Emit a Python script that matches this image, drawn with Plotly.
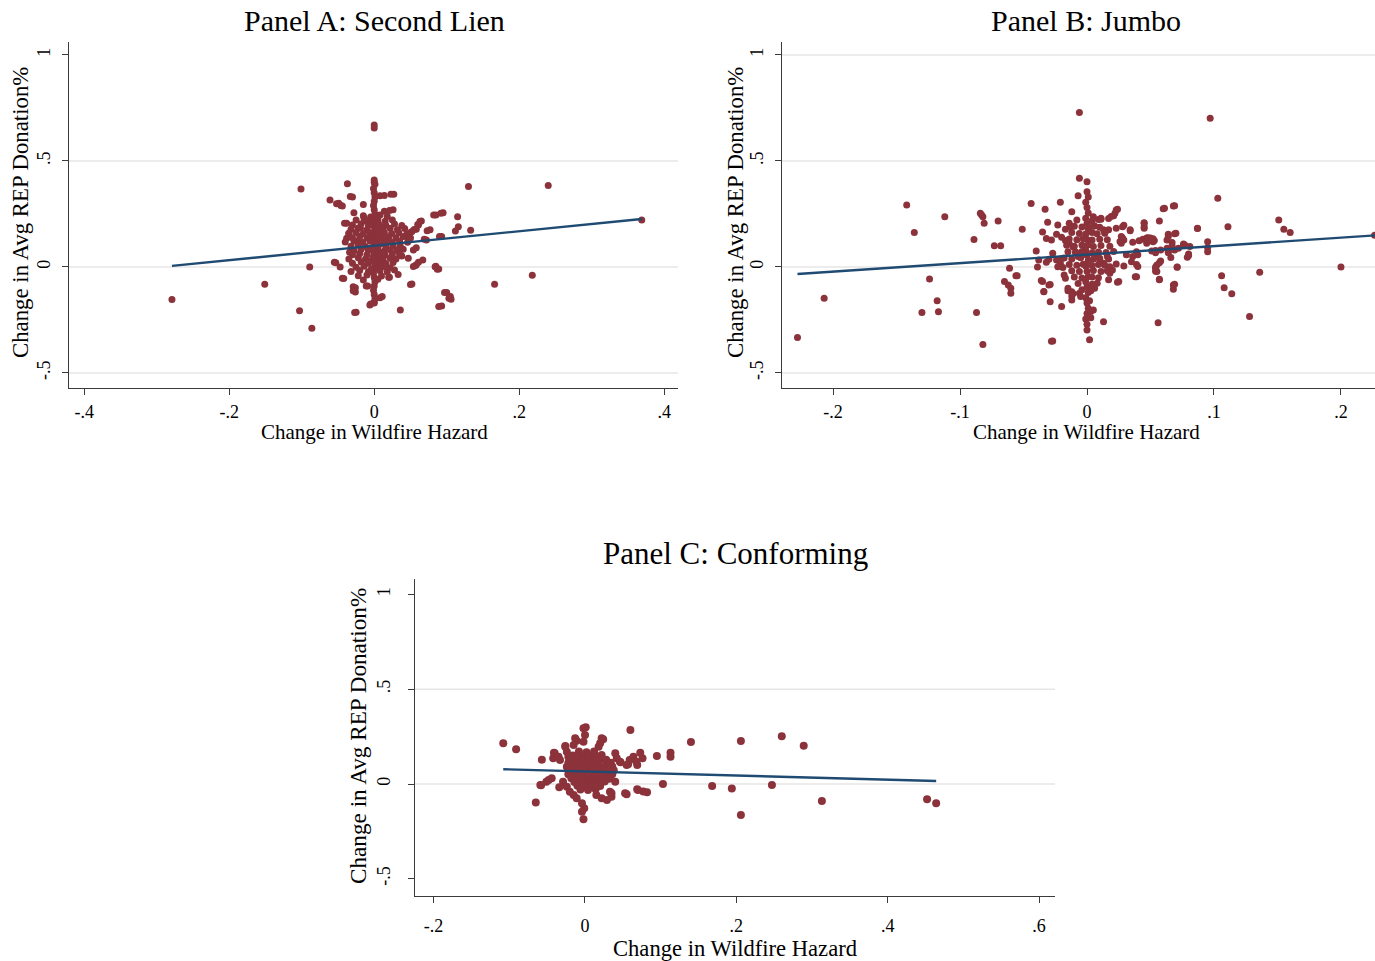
import plotly.graph_objects as go

W, H = 1375, 961
SERIF = "Liberation Serif"
DOT = "#8C323B"
FIT = "#1F4A72"
AXIS = "#3a3a3a"
GRID = "#E6E6E6"

# ---------------- data ----------------
panel_titles = ["Panel A: Second Lien", "Panel B: Jumbo", "Panel C: Conforming"]
x_title = "Change in Wildfire Hazard"
y_title = "Change in Avg REP Donation%"

a_xticks = [-0.4, -0.2, 0, 0.2, 0.4]
a_xlabels = ["-.4", "-.2", "0", ".2", ".4"]
b_xticks = [-0.2, -0.1, 0, 0.1, 0.2]
b_xlabels = ["-.2", "-.1", "0", ".1", ".2"]
c_xticks = [-0.2, 0, 0.2, 0.4, 0.6]
c_xlabels = ["-.2", "0", ".2", ".4", ".6"]
yticks = [-0.5, 0, 0.5, 1]
ylabels = ["-.5", "0", ".5", "1"]

# Panel A: Second Lien (x = change in hazard, y = change in REP donation %)
a_points = [
    (0.0, 0.670), (0.0, 0.655), (-0.279, -0.153), (-0.151, -0.082), (-0.101, 0.368),
    (-0.037, 0.392), (-0.061, 0.316), (-0.049, 0.300), (-0.046, 0.290), (-0.030, 0.330),
    (-0.028, 0.256), (-0.038, 0.206), (-0.089, 0.0), (-0.053, 0.020), (-0.103, -0.207),
    (-0.086, -0.289), (-0.025, -0.214), (0.036, -0.203), (0.093, -0.184), (0.100, -0.121),
    (0.105, -0.140), (0.106, -0.152), (0.166, -0.082), (0.218, -0.039), (0.369, 0.222),
    (0.240, 0.384), (0.130, 0.379), (0.115, 0.237), (0.116, 0.190), (0.112, 0.170),
    (0.133, 0.173), (0.095, 0.256), (0.085, 0.245), (0.077, 0.175), (0.093, 0.143),
    (0.065, 0.217), (0.060, 0.200), (0.055, 0.177), (0.072, 0.127), (0.058, 0.090),
    (0.067, 0.033), (0.058, 0.010), (0.085, 0.003), (0.089, -0.010), (0.052, -0.080),
    (0.021, -0.049), (0.011, -0.140), (0.0, -0.165), (-0.005, -0.175), (-0.009, -0.090),
    (-0.026, -0.098), (-0.026, -0.118), (-0.042, -0.055), (0.026, 0.270), (0.027, 0.343),
    (0.014, 0.337), (0.0, 0.400), (-0.052, 0.298), (-0.044, 0.287), (-0.033, 0.332),
    (-0.041, 0.206), (0.023, 0.343), (0.008, 0.336), (-0.015, 0.294), (0.014, 0.263),
    (0.021, 0.266), (-0.055, 0.022), (-0.044, -0.053), (-0.029, -0.093), (-0.029, -0.112),
    (-0.011, -0.090), (0.008, -0.145), (-0.006, -0.179), (-0.027, -0.215), (0.050, -0.083),
    (0.020, -0.049), (0.033, -0.036), (0.028, -0.014), (0.047, 0.041), (0.054, 0.002),
    (0.061, 0.022), (0.057, 0.007), (0.054, 0.080), (0.073, 0.171), (0.063, 0.214),
    (0.061, 0.198), (0.058, 0.178), (0.052, 0.167), (0.082, 0.245), (0.092, 0.253),
    (0.090, 0.143), (0.069, 0.131), (0.084, 0.001), (0.087, -0.011), (0.097, -0.121),
    (0.103, -0.148), (0.089, -0.187), (0.044, 0.143), (0.050, 0.162), (0.038, 0.052),
    (0.031, 0.080), (-0.047, 0.0), (-0.034, 0.069), (-0.038, 0.135), (-0.035, 0.159),
    (-0.024, 0.120), (-0.019, 0.183), (-0.014, 0.230),
    # vertical column at zero change
    (0.0, 0.410), (0.001, 0.390), (-0.001, 0.370), (0.0, 0.350), (0.001, 0.330),
    (0.0, 0.310), (-0.001, 0.290), (0.0, 0.270), (0.001, 0.250), (0.0, 0.230),
    (-0.001, 0.210), (0.0, 0.190), (0.001, 0.170), (0.0, 0.150), (-0.001, 0.130),
    (0.0, 0.110), (0.001, 0.090), (0.0, 0.070), (-0.001, 0.050), (0.0, 0.030),
    (0.001, 0.010), (0.0, -0.010), (-0.001, -0.030), (0.0, -0.050), (0.001, -0.070),
    (0.0, -0.090), (-0.001, -0.110), (0.0, -0.130), (0.001, -0.150), (0.0, -0.170),
    # dense core
    (-0.015, 0.242), (-0.005, 0.236), (0.008, 0.245), (0.018, 0.238),
    (-0.025, 0.221), (-0.012, 0.218), (0.005, 0.224), (0.015, 0.216), (0.025, 0.222),
    (-0.030, 0.198), (-0.018, 0.204), (-0.008, 0.196), (0.006, 0.202), (0.016, 0.197),
    (0.028, 0.203), (0.038, 0.195),
    (-0.032, 0.178), (-0.022, 0.184), (-0.010, 0.176), (0.004, 0.182), (0.012, 0.177),
    (0.022, 0.183), (0.032, 0.176), (0.042, 0.181),
    (-0.035, 0.158), (-0.025, 0.163), (-0.015, 0.156), (-0.006, 0.162), (0.006, 0.157),
    (0.014, 0.163), (0.024, 0.158), (0.034, 0.161), (0.045, 0.155),
    (-0.030, 0.138), (-0.020, 0.143), (-0.010, 0.137), (0.005, 0.142), (0.012, 0.136),
    (0.020, 0.141), (0.030, 0.138), (0.040, 0.144), (0.050, 0.137),
    (-0.040, 0.118), (-0.028, 0.123), (-0.016, 0.117), (-0.006, 0.122), (0.004, 0.118),
    (0.015, 0.124), (0.025, 0.117), (0.035, 0.121), (0.046, 0.116),
    (-0.032, 0.098), (-0.022, 0.103), (-0.012, 0.097), (0.006, 0.102), (0.016, 0.096),
    (0.026, 0.101), (0.036, 0.098),
    (-0.028, 0.078), (-0.018, 0.083), (-0.008, 0.077), (0.005, 0.082), (0.014, 0.076),
    (0.022, 0.081), (0.032, 0.078), (0.040, 0.083),
    (-0.030, 0.058), (-0.020, 0.063), (-0.010, 0.057), (0.006, 0.062), (0.015, 0.056),
    (0.025, 0.061), (0.035, 0.058),
    (-0.035, 0.038), (-0.022, 0.043), (-0.012, 0.037), (0.005, 0.042), (0.012, 0.036),
    (0.022, 0.041), (0.030, 0.038),
    (-0.030, 0.018), (-0.018, 0.023), (-0.008, 0.017), (0.008, 0.022), (0.016, 0.016),
    (0.026, 0.021),
    (-0.025, -0.002), (-0.014, 0.003), (0.006, -0.003), (0.014, 0.002), (0.022, -0.004),
    (-0.032, -0.022), (-0.020, -0.017), (-0.008, -0.023), (0.008, -0.018), (0.018, -0.024),
    (-0.022, -0.042), (-0.010, -0.038), (0.010, -0.043),
    (-0.015, -0.062), (0.005, -0.058),
    (-0.005, 0.210), (0.010, 0.190), (-0.004, 0.150), (0.010, 0.110), (-0.004, 0.090),
    (0.010, 0.060), (-0.004, 0.030), (0.008, 0.000), (-0.004, -0.010), (0.020, 0.120),
]
a_fit_x = [-0.279, 0.369]
a_fit_y = [0.005, 0.226]

# Panel B: Jumbo
b_points = [
    (-0.006, 0.728), (0.097, 0.701), (-0.228, -0.333), (-0.207, -0.148), (-0.142, 0.292),
    (-0.136, 0.162), (-0.112, 0.237), (-0.124, -0.057), (-0.118, -0.160), (-0.117, -0.211),
    (-0.130, -0.215), (-0.089, 0.129), (-0.087, -0.215), (-0.082, -0.366), (-0.084, 0.253),
    (-0.082, 0.237), (-0.081, 0.206), (-0.083, 0.245), (-0.070, 0.217), (-0.073, 0.100),
    (-0.068, 0.100), (-0.061, -0.006), (-0.065, -0.069), (-0.062, -0.085), (-0.060, -0.100),
    (-0.060, -0.124), (-0.056, -0.041), (-0.051, 0.178), (-0.044, 0.299), (-0.040, 0.075),
    (-0.039, 0.0), (-0.033, 0.272), (-0.035, -0.069), (-0.034, -0.117), (-0.030, -0.085),
    (-0.029, -0.164), (-0.028, -0.351), (-0.021, 0.305), (-0.020, -0.187), (-0.015, -0.112),
    (-0.011, -0.125), (-0.007, 0.336), (-0.006, 0.418), (0.0, 0.402), (0.002, -0.344),
    (0.013, -0.258), (0.056, -0.263), (0.038, -0.046), (0.057, -0.061), (0.068, -0.085),
    (0.068, -0.105), (0.071, 0.0), (0.060, 0.274), (0.068, 0.288), (0.057, 0.217),
    (0.045, 0.206), (0.045, 0.183), (0.069, 0.156), (0.087, 0.183), (0.103, 0.324),
    (0.111, 0.189), (0.095, 0.119), (0.095, 0.072), (0.106, -0.041), (0.108, -0.098),
    (0.114, -0.127), (0.128, -0.234), (0.136, -0.025), (0.151, 0.222), (0.155, 0.178),
    (0.160, 0.162), (0.200, 0.0), (0.2265, 0.150), (0.080, 0.061), (0.079, 0.046),
    (0.076, 0.104), (0.064, 0.143), (0.063, 0.127), (0.054, 0.067), (0.054, 0.0),
    (0.054, -0.020), (0.057, 0.020), (0.066, 0.045), (0.064, 0.067), (0.050, 0.136),
    (0.053, 0.125), (0.047, 0.136), (0.039, 0.012), (0.028, 0.190), (0.023, 0.269),
    (0.019, 0.238), (0.017, 0.228), (0.034, 0.175), (0.028, 0.136), (0.026, 0.120),
    (0.017, 0.175), (0.011, 0.230),
    (-0.012, 0.260), (-0.031, 0.211), (-0.023, 0.198), (-0.014, 0.206), (-0.013, 0.190),
    (-0.017, 0.178), (-0.035, 0.165), (-0.032, 0.134), (-0.028, 0.127), (-0.024, 0.154),
    (-0.020, 0.140), (-0.017, 0.125), (-0.014, 0.110), (-0.011, 0.095), (-0.009, 0.070),
    (-0.007, 0.049), (-0.038, 0.033), (-0.030, 0.036), (-0.027, 0.064), (-0.024, 0.033),
    (-0.021, 0.017), (-0.023, 0.001), (-0.019, -0.003), (-0.055, -0.042), (-0.036, -0.064),
    (-0.029, -0.083), (-0.034, -0.116), (-0.017, -0.053), (-0.018, -0.038), (-0.015, -0.100),
    (-0.012, -0.117), (-0.012, -0.137), (-0.012, -0.156), (-0.006, -0.124), (-0.005, -0.140),
    (-0.027, -0.349), (0.0, -0.297), (-0.032, 0.022), (-0.020, 0.040),
    (0.061, 0.277), (0.069, 0.289), (0.022, 0.253), (0.024, 0.272), (0.021, 0.242),
    (0.005, 0.237), (0.011, 0.225), (0.045, 0.209), (0.045, 0.190), (0.087, 0.181),
    (0.029, 0.197), (0.023, 0.183), (0.034, 0.171), (0.070, 0.159), (0.064, 0.154),
    (0.013, 0.175), (0.014, 0.159), (0.027, 0.143), (0.029, 0.127), (0.027, 0.112),
    (0.036, 0.116), (0.041, 0.123), (0.044, 0.131), (0.048, 0.138), (0.052, 0.133),
    (0.052, 0.119), (0.047, 0.112), (0.067, 0.115), (0.067, 0.099), (0.072, 0.088),
    (0.077, 0.104), (0.081, 0.096), (0.069, 0.080), (0.095, 0.091), (0.054, 0.077),
    (0.051, 0.075), (0.058, 0.080), (0.063, 0.088), (0.064, 0.072), (0.039, 0.072),
    (0.040, 0.057), (0.036, 0.049), (0.031, 0.057), (0.035, 0.025), (0.058, 0.028),
    (0.055, 0.009), (0.054, -0.006), (0.055, -0.022), (0.071, -0.002), (0.039, -0.046),
    (0.057, -0.058), (0.069, -0.082), (0.025, -0.069), (0.017, -0.061), (0.018, -0.030),
    (0.029, 0.005), (0.023, 0.014), (0.018, 0.001), (0.020, -0.014), (0.005, -0.093),
    (0.006, -0.100), (0.013, 0.017), (0.010, 0.033), (0.008, 0.049), (0.016, 0.049),
    (0.005, -0.203), (0.080, 0.054), (0.076, 0.108), (0.024, -0.072), (0.040, 0.002),
    (0.006, 0.193),
    # column at zero change
    (0.0, 0.355), (0.001, 0.330), (-0.001, 0.305), (0.0, 0.280), (0.001, 0.255),
    (-0.001, 0.230), (0.0, 0.205), (0.001, 0.180), (-0.001, 0.155), (0.0, 0.130),
    (0.001, 0.105), (-0.001, 0.080), (0.0, 0.055), (0.001, 0.030), (-0.001, 0.005),
    (0.0, -0.020), (0.001, -0.045), (-0.001, -0.070), (0.0, -0.095), (0.001, -0.120),
    (-0.001, -0.145), (0.0, -0.170), (0.001, -0.195), (0.0, -0.220), (-0.001, -0.245),
    (0.0, -0.270), (0.003, -0.210), (0.003, -0.240), (0.002, -0.160),
    # dense core
    (-0.008, 0.222), (0.004, 0.218), (0.009, 0.224),
    (-0.010, 0.192), (-0.004, 0.188), (0.005, 0.193), (0.010, 0.187),
    (-0.012, 0.162), (-0.006, 0.158), (0.004, 0.163), (0.008, 0.157), (0.014, 0.161),
    (-0.014, 0.132), (-0.008, 0.128), (-0.003, 0.133), (0.004, 0.127), (0.010, 0.131), (0.016, 0.128),
    (-0.016, 0.102), (-0.010, 0.098), (-0.004, 0.103), (0.005, 0.097), (0.011, 0.101), (0.018, 0.098),
    (-0.015, 0.072), (-0.009, 0.068), (-0.004, 0.073), (0.004, 0.067), (0.009, 0.071),
    (0.015, 0.068), (0.021, 0.073),
    (-0.018, 0.042), (-0.012, 0.038), (-0.005, 0.043), (0.005, 0.037), (0.010, 0.041), (0.017, 0.038),
    (-0.014, 0.012), (-0.008, 0.008), (-0.003, 0.013), (0.004, 0.007), (0.009, 0.011), (0.014, 0.008),
    (-0.012, -0.018), (-0.006, -0.022), (0.005, -0.017), (0.011, -0.021), (0.016, -0.018),
    (-0.010, -0.048), (-0.004, -0.052), (0.004, -0.047), (0.009, -0.051),
    (-0.007, -0.078), (0.004, -0.082), (0.008, -0.077),
    (-0.004, -0.108), (0.003, -0.112),
]
b_fit_x = [-0.228, 0.230]
b_fit_y = [-0.033, 0.150]

# Panel C: Conforming
c_points = [
    (-0.108, 0.215), (-0.091, 0.183), (-0.065, -0.097), (-0.057, 0.128), (-0.058, -0.007),
    (-0.048, 0.021), (-0.041, 0.165), (-0.034, -0.017), (-0.026, 0.200), (-0.011, 0.229),
    (-0.002, -0.186), (-0.001, -0.128), (0.001, 0.299), (0.024, 0.236), (0.040, 0.162),
    (0.040, 0.012), (0.035, -0.049), (0.055, -0.054), (0.060, 0.285), (0.057, 0.104),
    (0.047, 0.115), (0.069, 0.100), (0.073, 0.165), (0.076, 0.136), (0.069, -0.028),
    (0.082, -0.044), (0.095, 0.148), (0.103, 0.0), (0.113, 0.165), (0.113, 0.144),
    (0.140, 0.222), (0.168, -0.011), (0.194, -0.023), (0.206, 0.227), (0.206, -0.164),
    (0.247, -0.005), (0.260, 0.252), (0.289, 0.202), (0.313, -0.090), (0.452, -0.081),
    (0.464, -0.102),
    (-0.002, 0.294), (0.0, 0.259), (-0.002, 0.223), (-0.013, 0.241), (-0.015, 0.206),
    (0.022, 0.241), (0.020, 0.215), (0.018, 0.197), (-0.026, 0.197), (-0.024, 0.170),
    (-0.022, 0.144), (-0.040, 0.162), (-0.035, 0.144), (-0.042, 0.136), (-0.033, 0.127),
    (0.042, 0.136), (0.046, 0.118), (0.055, 0.100), (0.059, 0.127), (0.064, 0.144),
    (0.068, 0.118), (0.053, -0.049), (0.070, -0.032), (0.077, -0.040), (-0.051, 0.012),
    (-0.044, 0.030), (-0.059, -0.005), (-0.029, 0.012), (-0.024, -0.014), (-0.020, -0.041),
    (-0.015, -0.058), (-0.011, -0.075), (-0.004, -0.102), (-0.004, -0.146), (0.015, -0.058),
    (0.022, -0.075), (0.029, -0.084), (0.035, -0.067), (0.033, -0.041),
    # dense core
    (-0.008, 0.171), (0.002, 0.168), (0.012, 0.172),
    (-0.016, 0.151), (-0.006, 0.148), (0.004, 0.152), (0.014, 0.149), (0.022, 0.153),
    (-0.020, 0.131), (-0.010, 0.128), (0.0, 0.132), (0.010, 0.129), (0.020, 0.133), (0.028, 0.128),
    (-0.022, 0.111), (-0.012, 0.108), (-0.002, 0.112), (0.008, 0.109), (0.018, 0.113),
    (0.028, 0.108), (0.034, 0.112),
    (-0.024, 0.091), (-0.014, 0.088), (-0.004, 0.092), (0.006, 0.089), (0.016, 0.093),
    (0.026, 0.088), (0.036, 0.092),
    (-0.020, 0.071), (-0.010, 0.068), (0.0, 0.072), (0.010, 0.069), (0.020, 0.073),
    (0.030, 0.068), (0.038, 0.072),
    (-0.022, 0.051), (-0.012, 0.048), (-0.002, 0.052), (0.008, 0.049), (0.018, 0.053),
    (0.028, 0.048), (0.036, 0.052),
    (-0.018, 0.031), (-0.008, 0.028), (0.002, 0.032), (0.012, 0.029), (0.022, 0.033), (0.032, 0.028),
    (-0.014, 0.011), (-0.004, 0.008), (0.006, 0.012), (0.016, 0.009), (0.026, 0.013),
    (-0.010, -0.009), (0.0, -0.012), (0.010, -0.008), (0.020, -0.011),
    (-0.006, -0.029), (0.004, -0.032), (0.014, -0.028),
]
c_fit_x = [-0.108, 0.464]
c_fit_y = [0.078, 0.016]

# ---------------- layout geometry (pixels of the 1375x961 canvas) ----------------
def fx(p):
    return p / W


def fy(p):
    return 1 - p / H


panels = [
    dict(points=a_points, fx_=a_fit_x, fy_=a_fit_y, xt=a_xticks, xl=a_xlabels,
         xr=[-0.421, 0.419], yr=[-0.571, 1.061], dom_x=[69, 678], dom_y=[42, 388],
         grid=[-0.5, 0, 0.5], msize=7, ystand=5, xstand=1,
         tsize=30, xtsize=21, ytsize=22.8,
         title_xy=(374, 20), xtitle_xy=(374, 432), ytitle_xy=(20, 213)),
    dict(points=b_points, fx_=b_fit_x, fy_=b_fit_y, xt=b_xticks, xl=b_xlabels,
         xr=[-0.2402, 0.2268], yr=[-0.571, 1.061], dom_x=[782, 1375], dom_y=[42, 388],
         grid=[-0.5, 0, 0.5, 1], msize=7, ystand=5, xstand=1,
         tsize=30, xtsize=21, ytsize=22.8,
         title_xy=(1086, 20), xtitle_xy=(1086, 432), ytitle_xy=(735, 213)),
    dict(points=c_points, fx_=c_fit_x, fy_=c_fit_y, xt=c_xticks, xl=c_xlabels,
         xr=[-0.2246, 0.621], yr=[-0.591, 1.082], dom_x=[415, 1055], dom_y=[579, 896],
         grid=[0, 0.5], msize=8, ystand=11, xstand=7,
         tsize=31, xtsize=22.6, ytsize=23.2,
         title_xy=(735, 553), xtitle_xy=(735, 948), ytitle_xy=(358, 736)),
]

fig = go.Figure()
annotations = []
shapes = []
layout = dict(
    width=W, height=H,
    margin=dict(l=0, r=0, t=0, b=0),
    paper_bgcolor="white", plot_bgcolor="white",
    showlegend=False,
    font=dict(family=SERIF, color="black", size=18),
)

for i, p in enumerate(panels):
    n = "" if i == 0 else str(i + 1)
    xa, ya = "x" + n, "y" + n
    xs = [pt[0] for pt in p["points"]]
    ys = [pt[1] for pt in p["points"]]
    fig.add_trace(go.Scatter(
        x=xs, y=ys, mode="markers", xaxis=xa, yaxis=ya,
        marker=dict(color=DOT, size=p["msize"], line=dict(width=0)),
        hoverinfo="skip"))
    fig.add_trace(go.Scatter(
        x=p["fx_"], y=p["fy_"], mode="lines", xaxis=xa, yaxis=ya,
        line=dict(color=FIT, width=2.4), hoverinfo="skip"))

    layout["xaxis" + n] = dict(
        domain=[fx(p["dom_x"][0]), fx(p["dom_x"][1])], range=p["xr"], anchor=ya,
        tickvals=p["xt"], ticktext=p["xl"], ticks="outside", ticklen=6, tickwidth=1.2,
        tickcolor=AXIS, showline=True, linecolor=AXIS, linewidth=1.3,
        ticklabelstandoff=p["xstand"],
        showgrid=False, zeroline=False, tickfont=dict(family=SERIF, size=18, color="black"),
        fixedrange=True)
    layout["yaxis" + n] = dict(
        domain=[fy(p["dom_y"][1]), fy(p["dom_y"][0])], range=p["yr"], anchor=xa,
        tickvals=yticks, ticktext=ylabels, ticks="outside", ticklen=6, tickwidth=1.2,
        tickcolor=AXIS, showline=True, linecolor=AXIS, linewidth=1.3, tickangle=-90,
        ticklabelstandoff=p["ystand"],
        showgrid=False, zeroline=False, tickfont=dict(family=SERIF, size=18, color="black"),
        fixedrange=True)

    for g in p["grid"]:
        shapes.append(dict(type="line", xref=xa + " domain", yref=ya, x0=0, x1=1, y0=g, y1=g,
                           line=dict(color=GRID, width=1.5), layer="below"))

    tx, ty = p["title_xy"]
    annotations.append(dict(text=panel_titles[i], x=fx(tx), y=fy(ty), xref="paper", yref="paper",
                            xanchor="center", yanchor="middle", showarrow=False,
                            font=dict(family=SERIF, size=p["tsize"], color="black")))
    tx, ty = p["xtitle_xy"]
    annotations.append(dict(text=x_title, x=fx(tx), y=fy(ty), xref="paper", yref="paper",
                            xanchor="center", yanchor="middle", showarrow=False,
                            font=dict(family=SERIF, size=p["xtsize"], color="black")))
    tx, ty = p["ytitle_xy"]
    annotations.append(dict(text=y_title, x=fx(tx), y=fy(ty), xref="paper", yref="paper",
                            xanchor="center", yanchor="middle", showarrow=False, textangle=-90,
                            font=dict(family=SERIF, size=p["ytsize"], color="black")))

layout["annotations"] = annotations
layout["shapes"] = shapes
fig.update_layout(**layout)
fig.write_html("out.html")
